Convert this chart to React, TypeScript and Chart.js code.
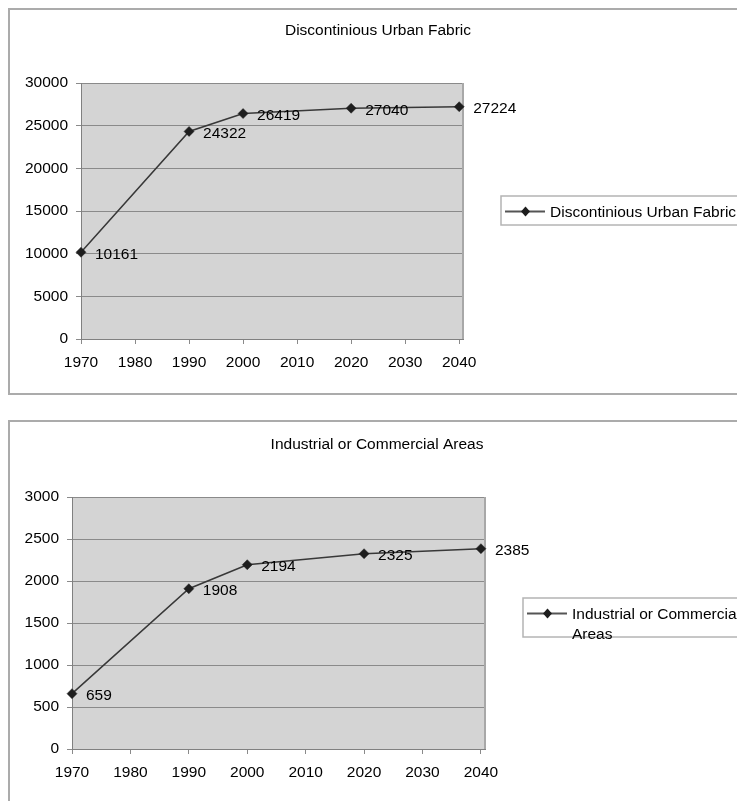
import React, { useEffect, useRef } from "react";
import { Chart, registerables } from "chart.js";

Chart.register(...registerables);

// ---- data ----
const years = [1970, 1990, 2000, 2020, 2040];
const xTickValues = [1970, 1980, 1990, 2000, 2010, 2020, 2030, 2040];

const urbanTitle = "Discontinious Urban Fabric";
const urbanValues = [10161, 24322, 26419, 27040, 27224];
const urbanYTicks = [0, 5000, 10000, 15000, 20000, 25000, 30000];

const industrialTitle = "Industrial or Commercial Areas";
const industrialValues = [659, 1908, 2194, 2325, 2385];
const industrialYTicks = [0, 500, 1000, 1500, 2000, 2500, 3000];

const FONT = '"Liberation Sans", Arial, Helvetica, sans-serif';
const TEXT = "#000000";

const decorPlugin = {
  id: "decor",
  beforeDraw(chart: any) {
    const { ctx, chartArea: a } = chart;
    ctx.save();
    ctx.fillStyle = "#d4d4d4";
    ctx.fillRect(a.left, a.top, a.right - a.left, a.bottom - a.top);
    ctx.restore();
  },
  beforeDatasetsDraw(chart: any) {
    const { ctx, chartArea: a } = chart;
    ctx.save();
    ctx.strokeStyle = "#a8a8a8";
    ctx.lineWidth = 2;
    ctx.beginPath();
    ctx.moveTo(a.right, a.top);
    ctx.lineTo(a.right, a.bottom);
    ctx.stroke();
    ctx.restore();
  },
  afterDatasetsDraw(chart: any) {
    const { ctx } = chart;
    const meta = chart.getDatasetMeta(0);
    const ds = chart.data.datasets[0];
    ctx.save();
    ctx.font = `15.5px ${FONT}`;
    ctx.fillStyle = TEXT;
    ctx.textAlign = "left";
    ctx.textBaseline = "middle";
    meta.data.forEach((pt: any, i: number) => {
      const v = (ds.data[i] as any).y;
      ctx.fillText(String(v), pt.x + 14, pt.y + 2);
    });
    ctx.restore();
  },
  afterDraw(chart: any, _args: any, opts: any) {
    const { ctx } = chart;
    const ds = chart.data.datasets[0];
    ctx.save();
    // title
    ctx.font = `15.5px ${FONT}`;
    ctx.fillStyle = TEXT;
    ctx.textAlign = "center";
    ctx.textBaseline = "middle";
    ctx.fillText(opts.title, opts.titleX, opts.titleY);

    // legend
    const lx = opts.legendX;
    const lt = opts.legendTop;
    const lb = opts.legendBottom;
    ctx.fillStyle = "#ffffff";
    ctx.fillRect(lx, lt, 400, lb - lt);
    ctx.strokeStyle = "#b4b4b4";
    ctx.lineWidth = 1.5;
    ctx.strokeRect(lx, lt, 400, lb - lt);

    const words = String(ds.label).split(" ");
    const lines: string[] = [];
    let cur = "";
    for (const w of words) {
      const test = cur ? cur + " " + w : w;
      if (cur && ctx.measureText(test).width > opts.legendMaxWidth) {
        lines.push(cur);
        cur = w;
      } else cur = test;
    }
    if (cur) lines.push(cur);

    const y0 = lt + 15.5;
    ctx.strokeStyle = "#555555";
    ctx.lineWidth = 2;
    ctx.beginPath();
    ctx.moveTo(lx + 4, y0);
    ctx.lineTo(lx + 44, y0);
    ctx.stroke();
    const mx = lx + 24.5;
    const r = 4.5;
    ctx.fillStyle = ds.pointBackgroundColor;
    ctx.beginPath();
    ctx.moveTo(mx - r, y0);
    ctx.lineTo(mx, y0 - r - 0.5);
    ctx.lineTo(mx + r, y0);
    ctx.lineTo(mx, y0 + r + 0.5);
    ctx.closePath();
    ctx.fill();

    ctx.fillStyle = TEXT;
    ctx.textAlign = "left";
    lines.forEach((ln, i) => ctx.fillText(ln, lx + 49, y0 + 1.5 + i * 20));
    ctx.restore();
  },
};

function makeConfig(
  title: string,
  values: number[],
  yTicks: number[],
  yWidth: number,
  padding: any,
  deco: any
): any {
  return {
    type: "line",
    data: {
      datasets: [
        {
          label: title,
          data: years.map((x, i) => ({ x, y: values[i] })),
          borderColor: "#383838",
          borderWidth: 1.5,
          pointStyle: "rectRot",
          pointRadius: 5,
          pointBackgroundColor: "#1e1e1e",
          pointBorderColor: "#1e1e1e",
          pointBorderWidth: 0.5,
          tension: 0,
          fill: false,
          clip: false,
        },
      ],
    },
    options: {
      responsive: false,
      animation: false,
      devicePixelRatio: 1,
      layout: { padding },
      plugins: {
        legend: { display: false },
        title: { display: false },
        tooltip: { enabled: false },
        decor: deco,
      },
      scales: {
        x: {
          type: "linear",
          min: xTickValues[0],
          max: xTickValues[xTickValues.length - 1] + 0.7,
          afterBuildTicks: (scale: any) => {
            scale.ticks = xTickValues.map((value) => ({ value }));
          },
          afterFit: (scale: any) => {
            scale.height = 30;
          },
          grid: {
            display: true,
            drawOnChartArea: false,
            drawTicks: true,
            tickLength: 5,
            color: "#8a8a8a",
          },
          border: { display: true, color: "#808080", width: 1 },
          ticks: {
            autoSkip: false,
            maxRotation: 0,
            padding: 9,
            color: TEXT,
            font: { family: FONT, size: 15.5 },
            callback: (v: any) => String(v),
          },
        },
        y: {
          type: "linear",
          min: yTicks[0],
          max: yTicks[yTicks.length - 1],
          afterBuildTicks: (scale: any) => {
            scale.ticks = yTicks.map((value) => ({ value }));
          },
          afterFit: (scale: any) => {
            scale.width = yWidth;
          },
          grid: {
            display: true,
            drawTicks: true,
            tickLength: 5,
            color: "#8a8a8a",
          },
          border: { display: true, color: "#808080", width: 1 },
          ticks: {
            autoSkip: false,
            padding: 8,
            color: TEXT,
            font: { family: FONT, size: 15.5 },
            callback: (v: any) => String(v),
          },
        },
      },
    },
    plugins: [decorPlugin],
  };
}

export default function App() {
  const c1 = useRef<HTMLCanvasElement>(null);
  const c2 = useRef<HTMLCanvasElement>(null);

  useEffect(() => {
    const ch1 = new Chart(
      c1.current as HTMLCanvasElement,
      makeConfig(
        urbanTitle,
        urbanValues,
        urbanYTicks,
        71,
        { left: 0, top: 73, right: 274, bottom: 24 },
        {
          title: urbanTitle,
          titleX: 368,
          titleY: 20.5,
          legendX: 491,
          legendTop: 186,
          legendBottom: 215,
          legendMaxWidth: 205,
        }
      )
    );
    const ch2 = new Chart(
      c2.current as HTMLCanvasElement,
      makeConfig(
        industrialTitle,
        industrialValues,
        industrialYTicks,
        62,
        { left: 0, top: 75, right: 252, bottom: 22 },
        {
          title: industrialTitle,
          titleX: 367,
          titleY: 23,
          legendX: 513,
          legendTop: 176,
          legendBottom: 215,
          legendMaxWidth: 175,
        }
      )
    );
    return () => {
      ch1.destroy();
      ch2.destroy();
    };
  }, []);

  const boxStyle: React.CSSProperties = {
    position: "absolute",
    left: 8,
    width: 760,
    border: "2px solid #ababab",
    boxSizing: "border-box",
    background: "#ffffff",
  };

  return (
    <div
      style={{
        position: "fixed",
        left: 0,
        top: 0,
        width: 737,
        height: 801,
        overflow: "hidden",
        background: "#ffffff",
      }}
    >
      <div style={{ ...boxStyle, top: 8, height: 387 }} />
      <div style={{ ...boxStyle, top: 420, height: 400 }} />
      <canvas
        ref={c1}
        width={727}
        height={383}
        style={{ position: "absolute", left: 10, top: 10, width: 727, height: 383 }}
      />
      <canvas
        ref={c2}
        width={727}
        height={379}
        style={{ position: "absolute", left: 10, top: 422, width: 727, height: 379 }}
      />
    </div>
  );
}
